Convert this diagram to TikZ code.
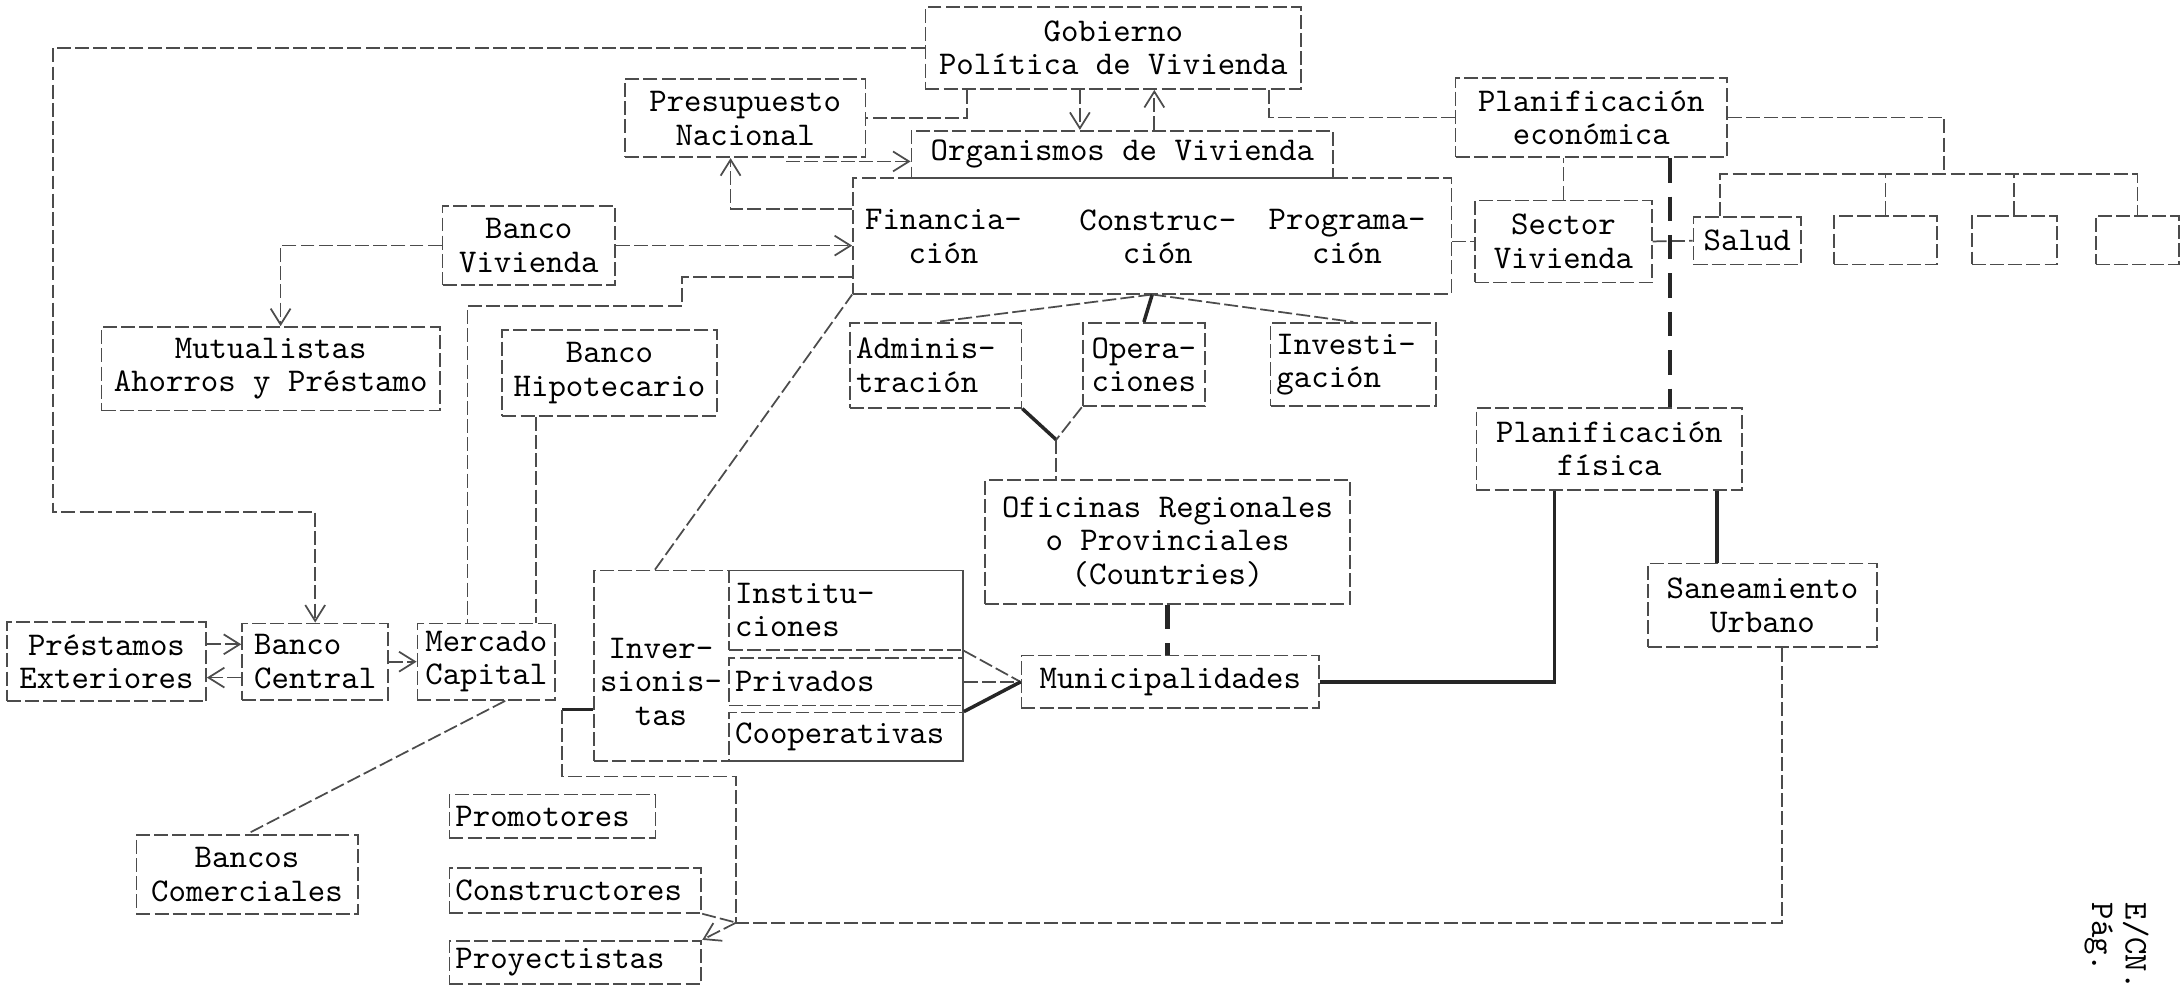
\documentclass[tikz,border=0pt]{standalone}
\usepackage{fontspec}
\usetikzlibrary{arrows.meta,calc}

\begin{document}
\begin{tikzpicture}[
  x=0.14mm, y=-0.14mm,
  every node/.style={font=\fontsize{9.5}{9.56}\selectfont\ttfamily},
  box/.style={draw=black!70, line width=0.5pt, dash pattern=on 4pt off 1.2pt, inner sep=0pt, align=center},
  lbox/.style={box, align=left, inner xsep=0.6mm, text width=#1},
  txt/.style={align=center, inner sep=0pt},
  link/.style={draw=black!70, line width=0.5pt, dash pattern=on 4pt off 1.2pt},
  arr/.style={link, -{Straight Barb[length=1.6mm, width=2mm]}},
  heavy/.style={draw=black!85, line width=1pt},
  bold/.style={draw=black!85, line width=1.3pt, dash pattern=on 7pt off 4pt},
]
\useasboundingbox (0,0) rectangle (1568,709.3);

% Gobierno y organismos
\node[box, minimum width=37.8mm, minimum height=8.26mm] (gob) at (800,34.5) {Gobierno\\Política de Vivienda};
\node[box, minimum width=24.22mm, minimum height=7.84mm] (presu) at (535.5,85) {Presupuesto\\Nacional};
\node[box, minimum width=42.42mm, minimum height=4.76mm] (orgviv) at (806.5,111) {Organismos de Vivienda};
\node[box, minimum width=60.2mm, minimum height=11.62mm] (areas) at (828,169.5) {};
\node[txt] (financ) at (678,170) {Financia-\\ción};
\node[txt] (constr) at (832,170) {Construc-\\ción};
\node[txt] (progr) at (968,170) {Programa-\\ción};
\node[lbox=16.02mm, minimum height=8.54mm] (admin) at (672.5,262.5) {Adminis-\\tración};
\node[box, minimum width=12.32mm, minimum height=8.4mm] (oper) at (822,262) {Opera-\\ciones};
\node[lbox=15.46mm, minimum height=8.4mm] (invest) at (972.5,262) {Investi-\\gación};
\node[box, minimum width=36.68mm, minimum height=12.46mm] (ofic) at (839,389.5) {Oficinas Regionales\\o Provinciales\\(Countries)};
\node[box, minimum width=29.96mm, minimum height=5.32mm] (munic) at (841,490) {Municipalidades};

% bancos
\node[box, minimum width=17.36mm, minimum height=7.98mm] (bviv) at (380,176.5) {Banco\\Vivienda};
\node[box, minimum width=34.02mm, minimum height=8.4mm] (mutual) at (194.5,265) {Mutualistas\\Ahorros y Préstamo};
\node[box, minimum width=21.56mm, minimum height=8.68mm] (bhipo) at (438,268) {Banco\\Hipotecario};
\node[box, minimum width=20.02mm, minimum height=7.98mm] (prest) at (76.5,475.5) {Préstamos\\Exteriores};
\node[box, align=left, minimum width=14.7mm, minimum height=7.7mm] (bancen) at (226.5,475.5) {Banco\\Central};
\node[box, minimum width=13.86mm, minimum height=7.7mm] (mercado) at (349.5,475.5) {Mercado\\Capital};
\node[box, minimum width=22.26mm, minimum height=7.98mm] (bcom) at (177.5,628.5) {Bancos\\Comerciales};

% inversionistas
\node[box, minimum width=37.1mm, minimum height=19.18mm] (invers) at (559.5,478.5) {};
\node[txt] (invtx) at (475,490) {Inver-\\sionis-\\tas};
\node[lbox=22.32mm, minimum height=7.98mm] (instit) at (608,438.5) {Institu-\\ciones};
\node[lbox=22.32mm, minimum height=4.76mm] (priv) at (608,490) {Privados};
\node[lbox=22.32mm, minimum height=4.9mm] (coop) at (608,529.5) {Cooperativas};
\node[lbox=19.52mm, minimum height=4.34mm] (prom) at (397,586.5) {Promotores};
\node[lbox=24.14mm, minimum height=4.48mm] (cons) at (413.5,640) {Constructores};
\node[lbox=24.14mm, minimum height=4.34mm] (proy) at (413.5,691.5) {Proyectistas};

% planificacion
\node[box, minimum width=27.3mm, minimum height=7.98mm] (planeco) at (1143.5,84.5) {Planificación\\económica};
\node[box, minimum width=17.78mm, minimum height=8.26mm] (sector) at (1123.5,173.5) {Sector\\Vivienda};
\node[box, minimum width=10.78mm, minimum height=4.76mm] (salud) at (1255.5,173) {Salud};
\node[box, minimum width=10.36mm, minimum height=4.9mm] (blank1) at (1355,172.5) {};
\node[box, minimum width=8.54mm, minimum height=4.9mm] (blank2) at (1447.5,172.5) {};
\node[box, minimum width=8.4mm, minimum height=4.9mm] (blank3) at (1536,172.5) {};
\node[box, minimum width=26.74mm, minimum height=8.26mm] (plfis) at (1156.5,322.5) {Planificación\\física};
\node[box, minimum width=23.1mm, minimum height=8.4mm] (saneam) at (1266.5,435) {Saneamiento\\Urbano};

\node[rotate=-90, align=left, inner sep=0pt] (signo) at (1521,680) {E/CN.\\Pág.};

% conexiones desde Gobierno
\coordinate (lp) at (38,368);
\draw[arr] (gob.west) -| (lp) -| (bancen.north);
\draw[arr] ([xshift=-3.36mm]gob.south) -- ([xshift=-3.36mm]gob.south |- orgviv.north);
\draw[arr] ([xshift=3.22mm]orgviv.north) -- ([xshift=3.22mm]orgviv.north |- gob.south);
\draw[link] ([xshift=-14.7mm]gob.south) |- (presu.east);
\draw[link] ([xshift=15.68mm]gob.south) |- (planeco.west);

% presupuesto
\coordinate (pnout) at (565,116);
\draw[arr] (pnout) -- (pnout -| orgviv.west);
\coordinate (fk) at (525,150);
\draw[arr] (fk -| areas.west) -- (fk) -- (fk |- presu.south);

% banco vivienda y mercado
\draw[arr] (bviv.west) -| ([xshift=1mm]mutual.north);
\draw[arr] (bviv.east) -- (bviv.east -| areas.west);
\coordinate (k1) at (490,199);
\coordinate (k2) at (490,220);
\draw[link] (k1 -| areas.west) -- (k1) -- (k2) -| ([xshift=-1.9mm]mercado.north);
\draw[link] ([xshift=-7.42mm]bhipo.south) -- ([xshift=-7.42mm]bhipo.south |- mercado.north);
\draw[arr] ([yshift=1.75mm]prest.east) -- ([yshift=1.75mm]bancen.west);
\draw[arr] ([yshift=-1.6mm]bancen.west) -- ([yshift=-1.6mm]prest.east);
\draw[arr] (bancen.east) -- (mercado.west);
\draw[link] ([xshift=1.9mm]mercado.south) -- (bcom.north);

% inversionistas
\coordinate (jn) at (404,510);
\coordinate (jc) at (529,558);
\coordinate (jn2) at (529,663);
\draw[heavy] (jn) -- (jn -| invers.west);
\draw[link] (jn) |- (jc) -- (jn2);
\draw[link] (cons.south east) -- (jn2);
\draw[arr] (jn2) -- (proy.north east);
\draw[link] ([xshift=2mm]saneam.south) |- (jn2);
\draw[link] ([xshift=6.2mm]invers.north west) -- (areas.south west);
\draw[link] (instit.south east) -- (munic.west);
\draw[link] (priv.east) -- (munic.west);
\draw[heavy] (coop.north east) -- (munic.west);

% dependencias de construccion
\draw[link] (areas.south) -- (admin.north);
\draw[heavy] (areas.south) -- (oper.north);
\draw[link] (areas.south) -- (invest.north);
\coordinate (yj) at (759,316);
\draw[heavy] (admin.south east) -- (yj);
\draw[link] (oper.south west) -- (yj);
\draw[link] (yj) -- (yj |- ofic.north);
\draw[bold] (ofic.south) -- (ofic.south |- munic.north);

% planificacion
\coordinate (bus) at (1397,125);
\draw[link] (planeco.east) -| (bus);
\draw[link] ([xshift=-2.7mm]salud.north) |- (blank3.north |- bus) -- (blank3.north);
\draw[link] (blank1.north) -- (blank1.north |- bus);
\draw[link] (blank2.north) -- (blank2.north |- bus);
\draw[link] (sector.north) -- (sector.north |- planeco.south);
\draw[link] (areas.east |- sector.west) -- (sector.west);
\draw[link] (sector.east) -- (salud.west);
\draw[bold] ([xshift=7.9mm]planeco.south) -- ([xshift=7.9mm]planeco.south |- plfis.north);
\draw[heavy] ([xshift=10.85mm]plfis.south) -- ([xshift=10.85mm]plfis.south |- saneam.north);
\draw[heavy] ([xshift=-5.53mm]plfis.south) |- (munic.east);

\end{tikzpicture}
\end{document}
